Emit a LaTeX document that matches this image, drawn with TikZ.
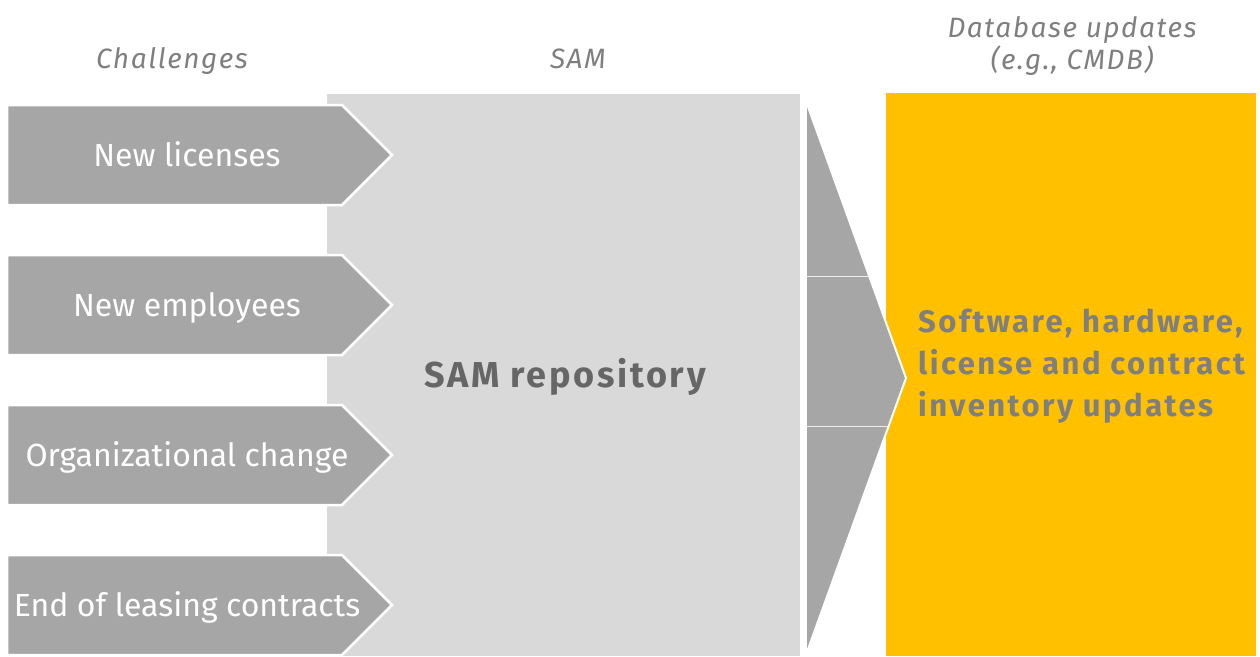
\documentclass[tikz,border=0pt]{standalone}
\usepackage{fontspec}
\setmainfont{Fira Sans}
\definecolor{arrowgray}{HTML}{A6A6A6}
\definecolor{panelgray}{HTML}{D9D9D9}
\definecolor{eyyellow}{HTML}{FFC000}
\definecolor{headgray}{HTML}{7F7F7F}
\definecolor{darktext}{HTML}{666666}
\tikzset{
  chevron/.style={fill=arrowgray, draw=white, line width=2.5pt, line join=miter},
  headlabel/.style={text=headgray, font=\fontsize{28}{32}\selectfont\itshape\addfontfeature{LetterSpace=5.5}, inner sep=0pt, anchor=base},
  chevlabel/.style={text=white, font=\fontsize{32}{36}\selectfont, inner sep=0pt, anchor=base},
  outlabel/.style={text=headgray, font=\fontsize{31}{42}\selectfont\bfseries\addfontfeature{LetterSpace=8}, inner sep=0pt, anchor=base west},
}
\begin{document}
\begin{tikzpicture}[x=1pt, y=-1pt]
\useasboundingbox (0,0) rectangle (1260,656);
\fill[white] (0,0) rectangle (1260,656);

% column headings
\node[headlabel] (hchal) at (172,68) {Challenges};
\node[headlabel] (hsam) at (578,68) {SAM};
\node[headlabel] (hdb1) at (1072,37) {Database updates};
\node[headlabel] (hdb2) at (1072,69) {(e.g., CMDB)};

% SAM repository panel
\fill[panelgray] (327,94) rectangle (800,656);
\node[text=darktext, font=\fontsize{36}{40}\selectfont\bfseries\addfontfeature{LetterSpace=7.5}, inner sep=0pt, anchor=base] (repo) at (565,387) {SAM repository};

% challenge chevrons
\foreach \y/\lab/\nm in {155/New licenses/c1, 305/New employees/c2, 455/Organizational change/c3, 605/End of leasing contracts/c4}{
  \draw[chevron] (7,\y-50) -- (342,\y-50) -- (392,\y) -- (342,\y+50) -- (7,\y+50) -- cycle;
  \node[chevlabel] (\nm) at (187,\y+11) {\lab};
}

% database update panel
\fill[eyyellow] (886,93) rectangle (1256,656);
\node[outlabel] (o1) at (918,332) {Software, hardware,};
\node[outlabel] (o2) at (918,374) {license and contract};
\node[outlabel] (o3) at (918,416) {inventory updates};

% funnel arrow into the database panel
\coordinate (ftop) at (807,104);
\coordinate (ftip) at (906,378);
\coordinate (fbot) at (807,652);
\begin{scope}
  \clip (ftop) -- (ftip) -- (fbot) -- cycle;
  \fill[arrowgray] (ftop) -- (ftip) -- (fbot) -- cycle;
  \draw[white!80!arrowgray, line width=1pt] (800,276) -- (920,276);
  \draw[white!80!arrowgray, line width=1pt] (800,426) -- (920,426);
\end{scope}
\draw[white, line width=2pt, line join=miter] (ftop) -- (ftip) -- (fbot);
\end{tikzpicture}
\end{document}
